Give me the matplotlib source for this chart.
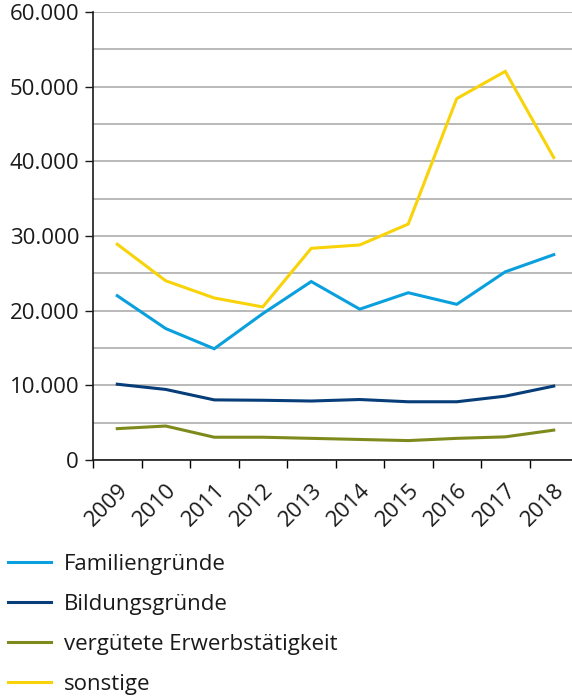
import matplotlib
matplotlib.use("Agg")
import matplotlib.pyplot as plt
from matplotlib.ticker import MultipleLocator, FuncFormatter
import numpy as np

years = ["2009", "2010", "2011", "2012", "2013", "2014", "2015", "2016", "2017", "2018"]
familie = [22000, 17600, 14900, 19600, 23900, 20200, 22400, 20850, 25200, 27500]
bildung = [10150, 9450, 8050, 8000, 7900, 8100, 7800, 7800, 8550, 9900]
erwerb = [4200, 4550, 3050, 3050, 2900, 2750, 2600, 2900, 3100, 4000]
sonstige = [28900, 24000, 21700, 20500, 28350, 28800, 31600, 48400, 52050, 40500]

labels = ["Familiengründe", "Bildungsgründe", "vergütete Erwerbstätigkeit", "sonstige"]
colors = ["#0A9FDD", "#073D78", "#7E8A1C", "#F8D30A"]

plt.rcParams['font.family'] = ['Open Sans', 'DejaVu Sans']

W, H = 572, 697
fig = plt.figure(figsize=(W/100, H/100), dpi=100)
left, right, top, bottom = 93, 578, 12, 460
ax = fig.add_axes([left/W, 1 - bottom/H, (right-left)/W, (bottom-top)/H])

x = np.arange(len(years))
series = [familie, bildung, erwerb, sonstige]
handles = []
for s, c, l in zip(series, colors, labels):
    h, = ax.plot(x, s, color=c, lw=2.2, label=l, zorder=3, solid_joinstyle='miter')
    handles.append(h)

ax.set_xlim(-0.5, len(years) - 0.5)
ax.set_ylim(0, 60000)
ax.yaxis.set_major_locator(MultipleLocator(10000))
ax.yaxis.set_minor_locator(MultipleLocator(5000))
ax.yaxis.set_major_formatter(FuncFormatter(lambda v, p: f"{int(v):,}".replace(",", ".")))
ax.grid(axis='y', which='both', color='#A6A6A6', lw=1.1, zorder=0)
ax.tick_params(axis='y', which='minor', length=0)
ax.tick_params(axis='y', which='major', length=6, width=1, labelsize=16, pad=4, colors='#1a1a1a')

ax.set_xticks(np.arange(-0.5, len(years), 1.0))
ax.set_xticklabels([])
ax.set_xticks(x, minor=True)
ax.set_xticklabels(years, minor=True, rotation=45, ha='right', va='top', rotation_mode='anchor', fontsize=16)
ax.tick_params(axis='x', which='major', length=6, width=1)
ax.tick_params(axis='x', which='minor', length=0, pad=14, colors='#1a1a1a')

for sp in ['top', 'right']:
    ax.spines[sp].set_visible(False)
for sp in ['left', 'bottom']:
    ax.spines[sp].set_color('#1a1a1a')
    ax.spines[sp].set_linewidth(1.2)

leg = fig.legend(handles=handles, labels=labels, loc='upper left',
                 bbox_to_anchor=(8/W, 1 - 554/H), frameon=False, fontsize=16,
                 handlelength=1.95, handletextpad=0.55, labelspacing=0.85,
                 borderaxespad=0, borderpad=0.0)
for t in leg.get_texts():
    t.set_color('#1a1a1a')

fig.savefig("out.png", dpi=100)
